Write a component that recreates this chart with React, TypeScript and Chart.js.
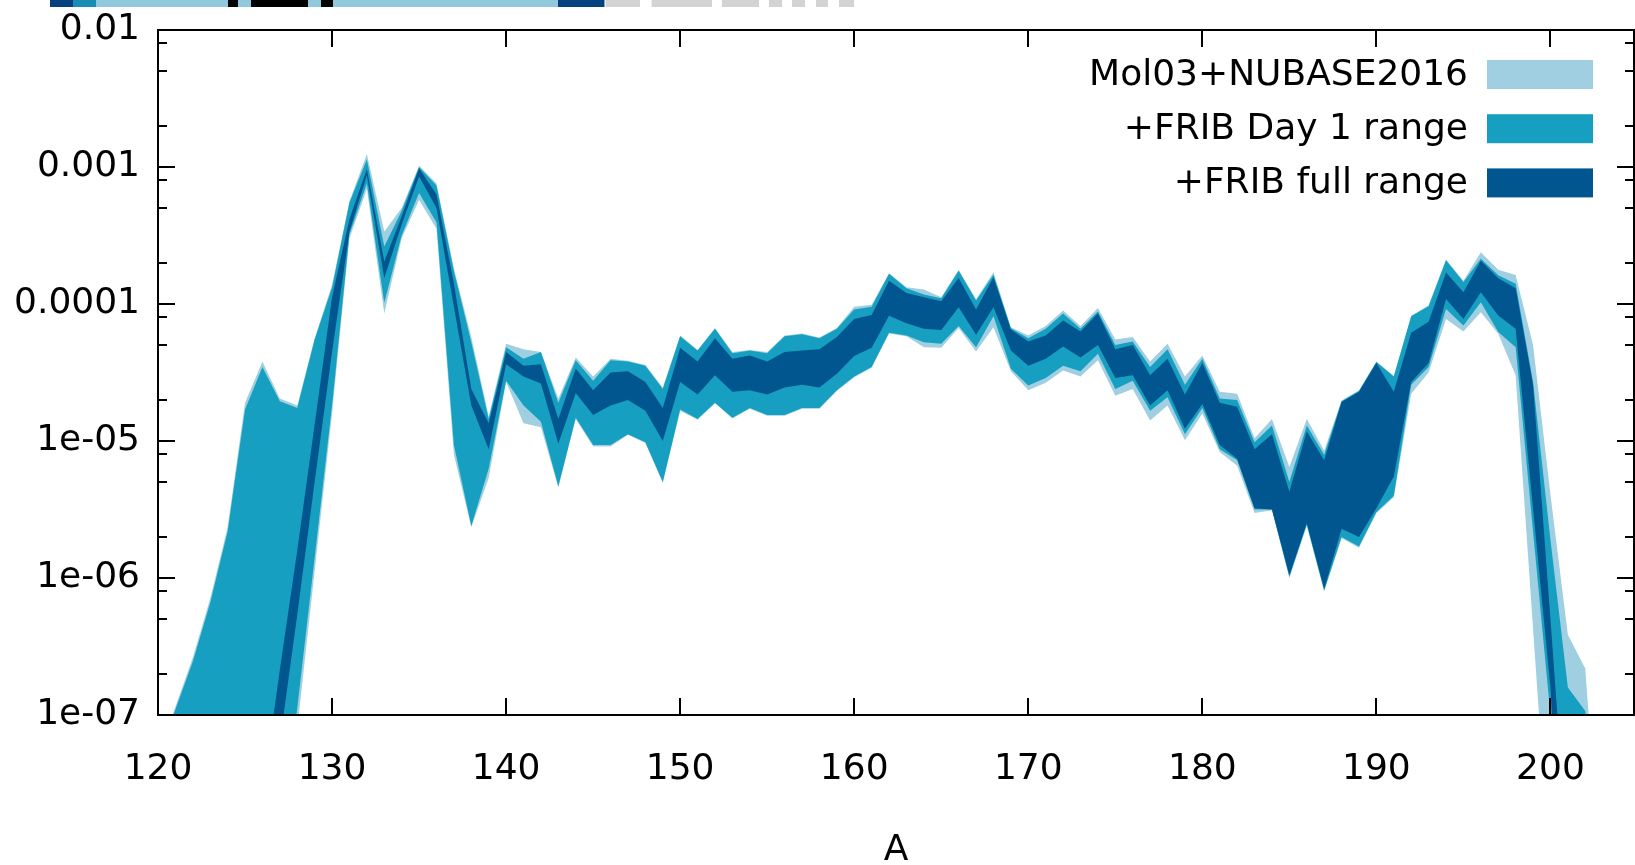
import React, { useEffect, useRef } from 'react';
import { Chart, registerables } from 'chart.js';

Chart.register(...registerables);

// Mass number A (x values)
const massNumbers = [
  120, 121, 122, 123, 124, 125, 126, 127, 128, 129,
  130, 131, 132, 133, 134, 135, 136, 137, 138, 139,
  140, 141, 142, 143, 144, 145, 146, 147, 148, 149,
  150, 151, 152, 153, 154, 155, 156, 157, 158, 159,
  160, 161, 162, 163, 164, 165, 166, 167, 168, 169,
  170, 171, 172, 173, 174, 175, 176, 177, 178, 179,
  180, 181, 182, 183, 184, 185, 186, 187, 188, 189,
  190, 191, 192, 193, 194, 195, 196, 197, 198, 199,
  200, 201, 202, 203,
];

// Band edges as log10 of the abundance
const mol03UpperExp = [
  -7.3, -6.94, -6.58, -6.15, -5.63, -4.72, -4.42, -4.69, -4.74, -4.25,
  -3.86, -3.25, -2.905, -3.47, -3.30, -2.99, -3.12, -3.74, -4.24, -4.82,
  -4.29, -4.33, -4.35, -4.69, -4.39, -4.53, -4.40, -4.415, -4.445, -4.61,
  -4.23, -4.335, -4.175, -4.35, -4.335, -4.35, -4.23, -4.215, -4.245, -4.175,
  -4.02, -4.005, -3.775, -3.878, -3.895, -3.95, -3.75, -3.965, -3.768, -4.17,
  -4.23, -4.16, -4.048, -4.16, -4.03, -4.26, -4.24, -4.42, -4.29, -4.53,
  -4.375, -4.64, -4.655, -4.98, -4.84, -5.19, -4.84, -5.07, -4.705, -4.63,
  -4.42, -4.525, -4.085, -4.01, -3.675, -3.83, -3.623, -3.75, -3.788, -4.30,
  -5.39, -6.415, -6.66, -8.4,
];
const mol03LowerExp = [
  -10, -9.5, -9.3, -9.1, -8.9, -8.7, -8.9, -8.2, -7.1, -5.95,
  -4.8, -3.52, -3.16, -4.07, -3.52, -3.24, -3.45, -5.1, -5.63, -5.27,
  -4.57, -4.87, -4.9, -5.34, -4.84, -5.04, -5.04, -4.955, -5.015, -5.305,
  -4.78, -4.845, -4.725, -4.835, -4.765, -4.815, -4.815, -4.765, -4.765, -4.635,
  -4.535, -4.465, -4.215, -4.235, -4.315, -4.32, -4.176, -4.346, -4.17, -4.49,
  -4.63, -4.575, -4.485, -4.53, -4.41, -4.67, -4.62, -4.85, -4.74, -4.995,
  -4.8, -5.08, -5.18, -5.525, -5.505, -6.0, -5.62, -6.1, -5.71, -5.78,
  -5.525, -5.41, -4.655, -4.5, -4.11, -4.2, -4.06, -4.218, -4.52, -6.37,
  -8.2, -9.5, -10, -10.5,
];
const day1UpperExp = [
  -7.32, -6.96, -6.61, -6.18, -5.66, -4.77, -4.46, -4.71, -4.76, -4.26,
  -3.88, -3.26, -2.946, -3.58, -3.32, -3.0, -3.135, -3.76, -4.28, -4.84,
  -4.315, -4.40, -4.35, -4.72, -4.41, -4.56, -4.41, -4.42, -4.45, -4.62,
  -4.235, -4.34, -4.18, -4.36, -4.34, -4.36, -4.235, -4.22, -4.25, -4.18,
  -4.04, -4.02, -3.78, -3.885, -3.93, -3.958, -3.757, -3.975, -3.786, -4.177,
  -4.25, -4.18, -4.07, -4.18, -4.055, -4.3, -4.274, -4.46, -4.33, -4.59,
  -4.40, -4.69, -4.70, -5.01, -4.886, -5.30, -4.886, -5.1, -4.71, -4.635,
  -4.424, -4.53, -4.09, -4.016, -3.68, -3.84, -3.67, -3.79, -3.853, -4.57,
  -5.72, -6.8, -6.97, -8.0,
];
const day1LowerExp = [
  -10, -9.5, -9.3, -9.1, -8.9, -8.7, -8.8, -8.0, -6.95, -5.85,
  -4.74, -3.49, -3.12, -3.99, -3.5, -3.19, -3.405, -5.03, -5.62, -5.2,
  -4.56, -4.74, -4.86, -5.33, -4.83, -5.03, -5.03, -4.95, -5.01, -5.30,
  -4.77, -4.84, -4.72, -4.83, -4.76, -4.81, -4.81, -4.76, -4.76, -4.63,
  -4.53, -4.46, -4.21, -4.23, -4.28, -4.29, -4.16, -4.315, -4.09, -4.473,
  -4.594, -4.54, -4.45, -4.49, -4.364, -4.62, -4.56, -4.78, -4.68, -4.95,
  -4.76, -5.06, -5.14, -5.5, -5.5, -5.99, -5.61, -6.09, -5.70, -5.77,
  -5.52, -5.40, -4.59, -4.46, -4.036, -4.157, -3.987, -4.205, -4.315, -5.66,
  -7.0, -9.0, -9.5, -10,
];
const fullUpperExp = [
  -9.5, -9.0, -8.8, -8.6, -8.4, -8.2, -7.58, -6.67, -5.8, -4.88,
  -3.95, -3.38, -3.014, -3.69, -3.36, -3.01, -3.2, -3.85, -4.62, -4.87,
  -4.35, -4.45, -4.44, -4.84, -4.47, -4.63, -4.5, -4.49, -4.57, -4.76,
  -4.32, -4.42, -4.25, -4.4, -4.376, -4.42, -4.35, -4.34, -4.33, -4.24,
  -4.11, -4.08, -3.83, -3.92, -3.95, -3.98, -3.81, -4.04, -3.805, -4.186,
  -4.273, -4.23, -4.12, -4.2, -4.07, -4.33, -4.3, -4.52, -4.4, -4.66,
  -4.43, -4.72, -4.75, -5.06, -4.95, -5.37, -4.93, -5.14, -4.715, -4.64,
  -4.43, -4.64, -4.21, -4.13, -3.77, -3.915, -3.684, -3.812, -3.885, -4.59,
  -6.3, -8.05, -9.0, -9.5,
];
const fullLowerExp = [
  -10, -9.5, -9.3, -9.1, -8.9, -8.7, -8.2, -7.2, -6.27, -5.3,
  -4.35, -3.47, -3.06, -3.81, -3.42, -3.07, -3.3, -4.02, -4.74, -5.06,
  -4.44, -4.53, -4.58, -5.02, -4.65, -4.81, -4.74, -4.70, -4.78, -5.0,
  -4.57, -4.66, -4.52, -4.64, -4.63, -4.66, -4.61, -4.59, -4.61, -4.51,
  -4.38, -4.32, -4.085, -4.14, -4.18, -4.19, -4.024, -4.225, -4.024, -4.34,
  -4.45, -4.40, -4.31, -4.39, -4.30, -4.54, -4.52, -4.74, -4.63, -4.91,
  -4.73, -5.03, -5.13, -5.49, -5.5, -5.98, -5.6, -6.08, -5.64, -5.70,
  -5.49, -5.26, -4.57, -4.43, -3.963, -4.11, -3.914, -4.084, -4.18, -5.49,
  -6.8, -9.0, -9.5, -10,
];

const seriesLabels = ['Mol03+NUBASE2016', '+FRIB Day 1 range', '+FRIB full range'];
const seriesColors = ['#9fcfe0', '#169fc1', '#02568f'];

const xTickValues = [120, 130, 140, 150, 160, 170, 180, 190, 200];
const yTickValues = [1e-7, 1e-6, 1e-5, 1e-4, 1e-3, 1e-2];
const yTickLabels = ['1e-07', '1e-06', '1e-05', '0.0001', '0.001', '0.01'];
const yMinorTickValues = [
  2e-7, 5e-7, 8e-7, 2e-6, 5e-6, 8e-6, 2e-5, 5e-5, 8e-5,
  2e-4, 5e-4, 8e-4, 2e-3, 5e-3, 8e-3,
];
const xAxisTitle = 'A';

// decorative strip clipped at the top of the picture (not data)
const topStrip = [
  { x0: 50, x1: 73, c: '#05417f' },
  { x0: 73, x1: 96.5, c: '#1a8db5' },
  { x0: 96.5, x1: 228, c: '#90c8dc' },
  { x0: 228, x1: 238, c: '#000000' },
  { x0: 238, x1: 251, c: '#90c8dc' },
  { x0: 251, x1: 308, c: '#000000' },
  { x0: 308, x1: 321, c: '#90c8dc' },
  { x0: 321, x1: 333, c: '#000000' },
  { x0: 333, x1: 558, c: '#90c8dc' },
  { x0: 558, x1: 604.5, c: '#05417f' },
  { x0: 605.6, x1: 640, c: '#d3d3d3' },
  { x0: 651.6, x1: 712, c: '#d3d3d3' },
  { x0: 722, x1: 759, c: '#d3d3d3' },
  { x0: 769, x1: 782, c: '#d3d3d3' },
  { x0: 792, x1: 805, c: '#d3d3d3' },
  { x0: 816, x1: 828, c: '#d3d3d3' },
  { x0: 839, x1: 854, c: '#d3d3d3' },
];

const FONT = '"DejaVu Sans", Verdana, sans-serif';

const toPoints = (exps: number[]) => massNumbers.map((a, i) => ({ x: a, y: 10 ** exps[i] }));

const framePlugin = {
  id: 'gnuFrame',
  beforeDraw(chart: any) {
    const ctx = chart.ctx;
    ctx.save();
    ctx.fillStyle = '#ffffff';
    ctx.fillRect(0, 0, chart.width, chart.height);
    for (const s of topStrip) {
      ctx.fillStyle = s.c;
      ctx.fillRect(s.x0, 0, s.x1 - s.x0, 7);
    }
    ctx.restore();
  },
  afterDraw(chart: any) {
    const { ctx, chartArea: ca } = chart;
    const xs = chart.scales.x;
    const ys = chart.scales.y;
    ctx.save();
    ctx.strokeStyle = '#000';
    ctx.lineWidth = 2;
    ctx.beginPath();
    const major = 17;
    const minor = 9;
    for (const v of xTickValues) {
      const px = Math.round(xs.getPixelForValue(v));
      ctx.moveTo(px, ca.bottom);
      ctx.lineTo(px, ca.bottom - major);
      ctx.moveTo(px, ca.top);
      ctx.lineTo(px, ca.top + major);
    }
    for (const v of yTickValues) {
      const py = Math.round(ys.getPixelForValue(v));
      ctx.moveTo(ca.left, py);
      ctx.lineTo(ca.left + major, py);
      ctx.moveTo(ca.right, py);
      ctx.lineTo(ca.right - major, py);
    }
    for (const v of yMinorTickValues) {
      const py = Math.round(ys.getPixelForValue(v));
      ctx.moveTo(ca.left, py);
      ctx.lineTo(ca.left + minor, py);
      ctx.moveTo(ca.right, py);
      ctx.lineTo(ca.right - minor, py);
    }
    ctx.stroke();
    ctx.strokeRect(ca.left, ca.top, ca.right - ca.left, ca.bottom - ca.top);

    // legend (text then swatch, gnuplot style)
    ctx.font = `36px ${FONT}`;
    ctx.textAlign = 'right';
    ctx.textBaseline = 'alphabetic';
    const swRight = ca.right - 41;
    const swW = 106;
    const swH = 29;
    for (let i = 0; i < seriesLabels.length; i++) {
      const base = ca.top + 55 + i * 54.2;
      ctx.fillStyle = '#000';
      ctx.fillText(seriesLabels[i], swRight - swW - 19, base);
      ctx.fillStyle = seriesColors[i];
      ctx.fillRect(swRight - swW, base - 25, swW, swH);
    }
    ctx.restore();
  },
};

export default function App() {
  const canvasRef = useRef<HTMLCanvasElement | null>(null);

  useEffect(() => {
    if (!canvasRef.current) return;
    const bandDs = (label: string, data: any[], color: string, fill: any) => ({
      label,
      data,
      fill,
      backgroundColor: color,
      borderColor: color,
      borderWidth: 0,
      pointRadius: 0,
      pointHoverRadius: 0,
      tension: 0,
    });
    const chart = new Chart(canvasRef.current, {
      type: 'line',
      data: {
        datasets: [
          bandDs(seriesLabels[2] + ' max', toPoints(fullUpperExp), seriesColors[2], '+1'),
          bandDs(seriesLabels[2] + ' min', toPoints(fullLowerExp), seriesColors[2], false),
          bandDs(seriesLabels[1] + ' max', toPoints(day1UpperExp), seriesColors[1], '+1'),
          bandDs(seriesLabels[1] + ' min', toPoints(day1LowerExp), seriesColors[1], false),
          bandDs(seriesLabels[0] + ' max', toPoints(mol03UpperExp), seriesColors[0], '+1'),
          bandDs(seriesLabels[0] + ' min', toPoints(mol03LowerExp), seriesColors[0], false),
        ],
      },
      options: {
        responsive: false,
        animation: false,
        devicePixelRatio: 1,
        events: [],
        layout: { padding: { top: 30, right: 1, left: 0, bottom: 0 } },
        plugins: {
          legend: { display: false },
          tooltip: { enabled: false },
          title: { display: false },
        },
        scales: {
          x: {
            type: 'linear',
            min: 120,
            max: 204.8,
            grid: { display: false, drawTicks: false },
            border: { display: false },
            afterBuildTicks: (scale: any) => {
              scale.ticks = xTickValues.map((v) => ({ value: v }));
            },
            afterFit: (scale: any) => {
              scale.height = 150;
              scale.paddingLeft = 0;
              scale.paddingRight = 0;
              scale.paddingTop = 0;
              scale.paddingBottom = 0;
            },
            ticks: {
              autoSkip: false,
              maxRotation: 0,
              padding: 33,
              color: '#000',
              font: { family: FONT, size: 36 },
              callback: (v: any) => String(v),
            },
            title: {
              display: true,
              text: xAxisTitle,
              color: '#000',
              font: { family: FONT, size: 36, lineHeight: 0.78 },
              padding: { top: 0, bottom: 0 },
            },
          },
          y: {
            type: 'logarithmic',
            min: 1e-7,
            max: 1e-2,
            grid: { display: false, drawTicks: false },
            border: { display: false },
            afterBuildTicks: (scale: any) => {
              scale.ticks = yTickValues.map((v) => ({ value: v }));
            },
            afterFit: (scale: any) => {
              scale.width = 158;
              scale.paddingLeft = 0;
              scale.paddingRight = 0;
              scale.paddingTop = 0;
              scale.paddingBottom = 0;
            },
            ticks: {
              autoSkip: false,
              padding: 18,
              color: '#000',
              font: { family: FONT, size: 36 },
              callback: (value: any) => {
                const idx = yTickValues.findIndex(
                  (t) => Math.abs(Math.log10(t) - Math.log10(Number(value))) < 1e-6
                );
                return idx >= 0 ? yTickLabels[idx] : '';
              },
            },
          },
        },
      },
      plugins: [framePlugin],
    } as any);
    return () => chart.destroy();
  }, []);

  return (
    <div style={{ position: 'fixed', left: 0, top: 0, width: 1635, height: 865, background: '#fff' }}>
      <canvas ref={canvasRef} width={1635} height={865} style={{ display: 'block' }} />
    </div>
  );
}
